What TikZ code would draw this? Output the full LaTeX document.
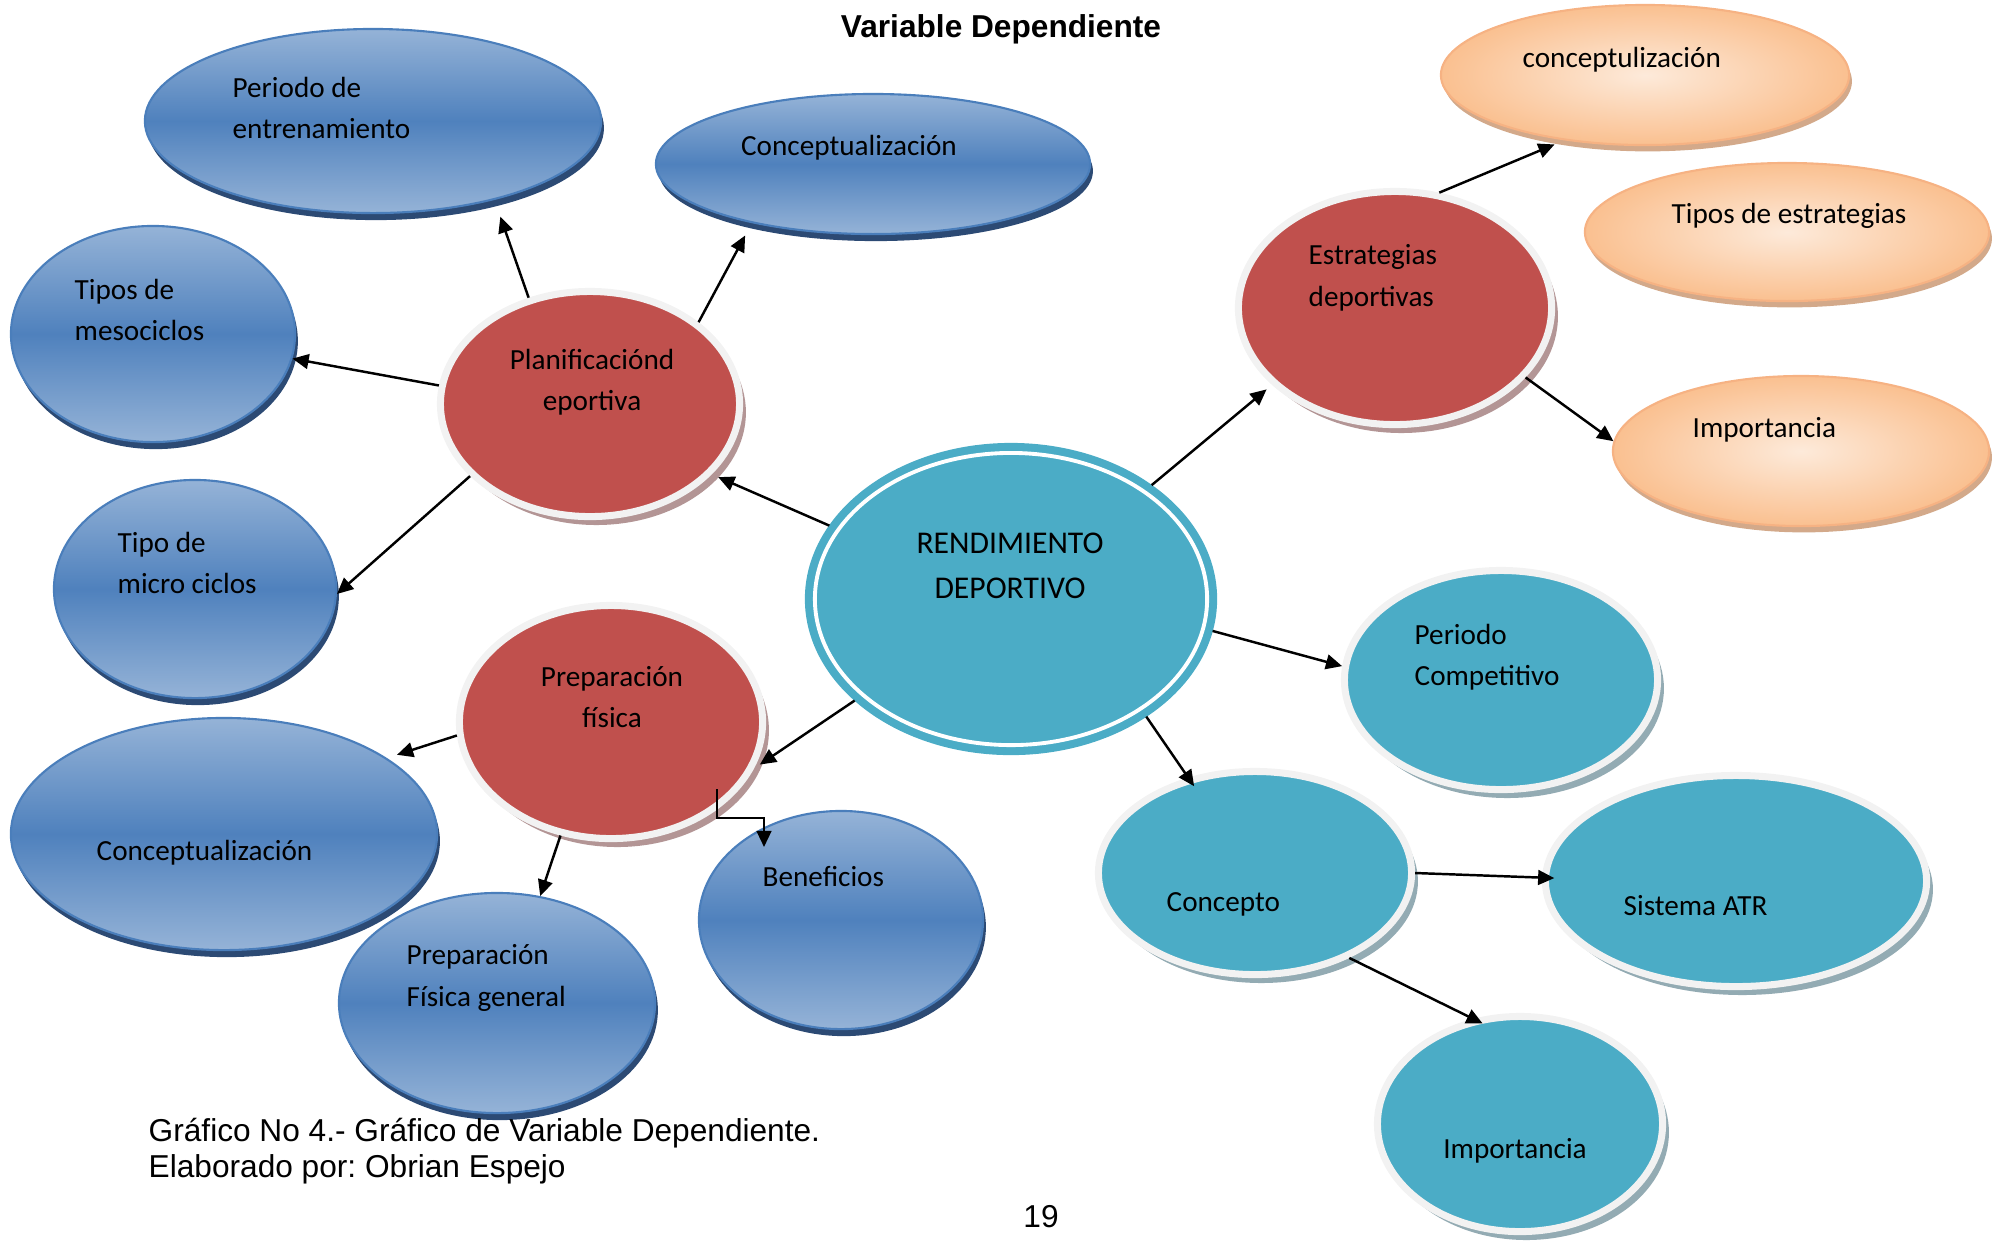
\documentclass[tikz,border=0pt]{standalone}
\usepackage{fontspec}
\setmainfont{Carlito}
\newfontfamily\arialfont{Liberation Sans}
\usepackage{tikz}
\usetikzlibrary{arrows.meta,positioning,shapes.geometric,shadows,calc}
\definecolor{BlueL}{HTML}{95B3D7}
\definecolor{BlueM}{HTML}{4F81BD}
\definecolor{BlueE}{HTML}{4A7EBB}
\definecolor{BlueS}{HTML}{2C4A74}
\definecolor{RedF}{HTML}{C0504D}
\definecolor{RedS}{HTML}{B39595}
\definecolor{RingG}{HTML}{F2F2F2}
\definecolor{TealF}{HTML}{4BACC6}
\definecolor{TealS}{HTML}{93ABB3}
\definecolor{PeachL}{HTML}{FDEADA}
\definecolor{PeachD}{HTML}{FAC090}
\definecolor{PeachE}{HTML}{F6B283}
\definecolor{PeachS}{HTML}{D3A98A}
\frenchspacing

\begin{document}
\begin{tikzpicture}[x=0.01cm,y=-0.01cm,
    blu/.style={ellipse,draw=BlueE,line width=0.6pt,inner sep=0pt,
      top color=BlueL,bottom color=BlueL,middle color=BlueM,
      drop shadow={shadow xshift=0.8pt,shadow yshift=-2pt,fill=BlueS,opacity=1}},
    redn/.style={ellipse,fill=RedF,draw=RingG,line width=2pt,inner sep=0pt,
      drop shadow={shadow xshift=1.8pt,shadow yshift=-2.4pt,fill=RedS,opacity=1}},
    tealn/.style={ellipse,fill=TealF,draw=RingG,line width=2pt,inner sep=0pt,
      drop shadow={shadow xshift=1.8pt,shadow yshift=-2.4pt,fill=TealS,opacity=1}},
    peach/.style={ellipse,draw=PeachE,line width=0.6pt,inner sep=0pt,
      inner color=PeachL,outer color=PeachD,
      drop shadow={shadow xshift=0.8pt,shadow yshift=-1.8pt,fill=PeachS,opacity=1}},
    core/.style={ellipse,fill=TealF,draw=TealF,double=white,double distance=1.1pt,
      line width=2.3pt,inner sep=0pt,outer sep=2.8pt},
    txt/.style={font=\fontsize{8.3}{11.8}\selectfont,inner sep=0pt,align=left},
    arr/.style={-{Triangle[length=4.6pt,width=4.2pt]},line width=0.7pt}]
  \useasboundingbox (0,0) rectangle (1997,1244);

  % Planificacion deportiva
  \node[blu, minimum width=4.56cm, minimum height=1.84cm] (PE) at (373,121) {};
  \node[blu, minimum width=4.34cm, minimum height=1.40cm] (CT) at (873,164) {};
  \node[blu, minimum width=2.84cm, minimum height=2.16cm] (TM) at (153,334) {};
  \node[blu, minimum width=2.82cm, minimum height=2.18cm] (TC) at (195,589) {};
  \node[redn, minimum width=2.99cm, minimum height=2.25cm] (PL) at (590,404) {};

  % Preparacion fisica
  \node[blu, minimum width=4.26cm, minimum height=2.32cm] (CB) at (224,834) {};
  \node[blu, minimum width=3.16cm, minimum height=2.20cm] (PG) at (497,1003) {};
  \node[blu, minimum width=2.84cm, minimum height=2.18cm] (BN) at (841,920) {};
  \node[redn, minimum width=3.03cm, minimum height=2.33cm] (PF) at (611,722) {};

  % Estrategias deportivas
  \node[peach, minimum width=4.08cm, minimum height=1.40cm] (EC) at (1645,75) {};
  \node[peach, minimum width=4.04cm, minimum height=1.38cm] (ET) at (1787,232) {};
  \node[peach, minimum width=3.76cm, minimum height=1.50cm] (EI) at (1801,451) {};
  \node[redn, minimum width=3.13cm, minimum height=2.33cm] (ES) at (1395,308) {};

  % Periodo competitivo
  \node[tealn, minimum width=3.13cm, minimum height=2.19cm] (PC) at (1501,680) {};
  \node[tealn, minimum width=3.13cm, minimum height=2.03cm] (CO) at (1255,873) {};
  \node[tealn, minimum width=3.81cm, minimum height=2.11cm] (SA) at (1736,881) {};
  \node[tealn, minimum width=2.85cm, minimum height=2.15cm] (IM) at (1520,1124) {};

  \node[core, minimum width=3.92cm, minimum height=2.92cm] (RD) at (1011,599) {};

  % texts
  \node[txt, anchor=west] (tPE) at (232,108) {Periodo de\\entrenamiento};
  \node[txt] (tCT) at (849,148) {Conceptualización};
  \node[txt, anchor=west] (tTM) at (74,310) {Tipos de\\mesociclos};
  \node[txt, anchor=west] (tTC) at (117,563) {Tipo de\\micro ciclos};
  \node[txt, align=center] (tPL) at (592,382) {Planificaciónd\\eportiva};
  \node[txt, anchor=west] (tCB) at (96,853) {Conceptualización};
  \node[txt, anchor=west] (tPG) at (406,978) {Preparación\\Física general};
  \node[txt, anchor=west] (tBN) at (762,876) {Beneficios};
  \node[txt, align=center] (tPF) at (612,697) {Preparación\\física};
  \node[txt, anchor=west] (tEC) at (1522,60) {conceptulización};
  \node[txt] (tET) at (1789,216) {Tipos de estrategias};
  \node[txt, anchor=west] (tEI) at (1692,430) {Importancia};
  \node[txt, anchor=west] (tES) at (1308,278) {Estrategias\\deportivas};
  \node[txt, anchor=west] (tPC) at (1414,657) {Periodo\\Competitivo};
  \node[txt, anchor=west] (tCO) at (1166,904) {Concepto};
  \node[txt, anchor=west] (tSA) at (1623,906) {Sistema ATR};
  \node[txt] (tIM) at (1515,1151) {Importancia};
  \node[txt, align=center, font=\fontsize{9}{12.8}\selectfont] (tRD) at (1010,566) {RENDIMIENTO\\DEPORTIVO};

  % connectors
  \draw[arr, shorten >=5pt] (PL.120) -- (PE.-33);
  \draw[arr, shorten >=4pt] (PL.37) -- (CT.206);
  \draw[arr] (PL.173) -- (TM.-10);
  \draw[arr] (PL.211) -- (TC.-2);
  \draw[arr, shorten >=2pt] (RD.158) -- (PL.-30);
  \draw[arr, shorten >=2pt] (RD.39) -- (ES.212);
  \draw[arr, shorten >=3pt] (ES.69) -- (EC.219);
  \draw[arr] (ES.-28) -- (EI.177);
  \draw[arr] (RD.-9) -- (PC.175);
  \draw[arr, shorten >=-3pt] (RD.-41) -- (CO.125);
  \draw[arr, shorten >=-3.5pt] (CO.0) -- (SA.179);
  \draw[arr, shorten >=-3pt] (CO.-42) -- (IM.114);
  \draw[arr, shorten >=2pt] (RD.213) -- (PF.-18);
  \draw[arr, shorten >=3pt] (PF.185) -- (CB.25);
  \draw[arr] (PF.246) -- (PG.68);
  \coordinate (kPF) at (717,789);
  \draw[arr] (kPF) -- ++(0,29) -| ($(BN.center)+(-77,-73)$);

  % title and caption
  \node[font=\arialfont\bfseries\fontsize{9}{11}\selectfont] (title) at (1001,29) {Variable Dependiente};
  \node[anchor=west, align=left, inner sep=0pt, font=\arialfont\fontsize{9}{10.2}\selectfont] (cap) at (148,1151)
    {Gráfico No 4.- Gráfico de Variable Dependiente.\\Elaborado por: Obrian Espejo};
  \node[font=\arialfont\fontsize{9}{11}\selectfont] (pg) at (1041,1217) {19};
\end{tikzpicture}
\end{document}
